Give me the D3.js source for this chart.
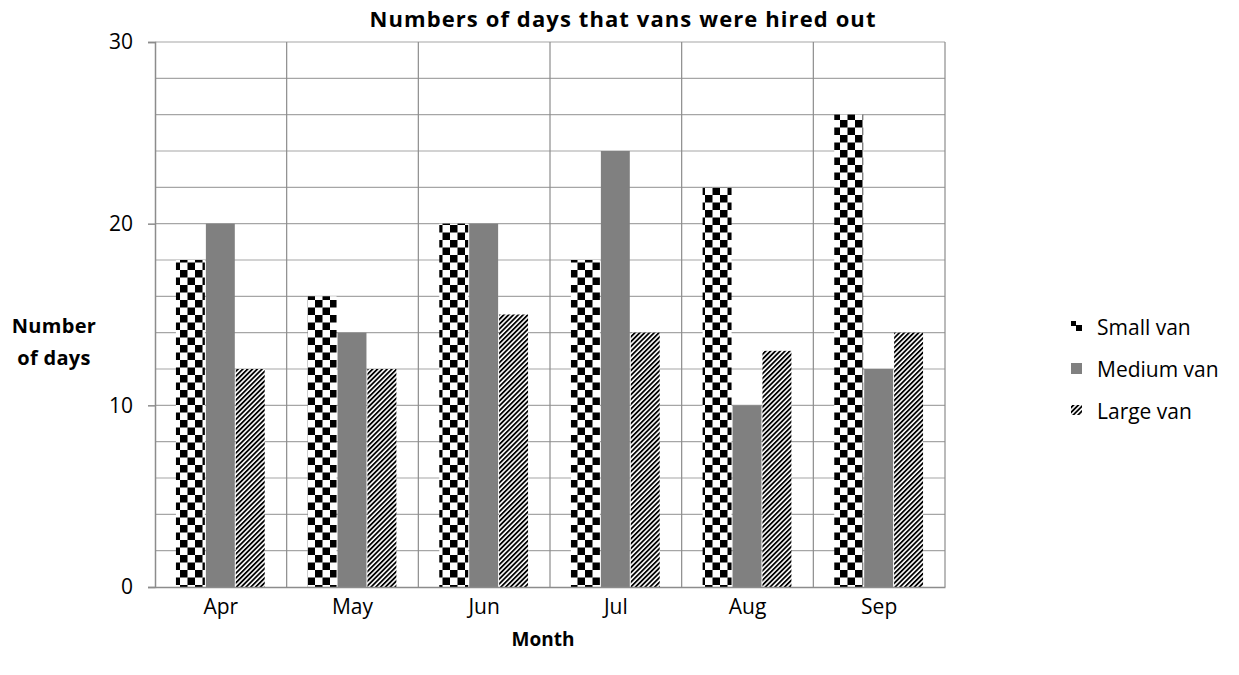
<!DOCTYPE html>
<html>
<head>
<meta charset="utf-8">
<script src="https://cdn.jsdelivr.net/npm/d3@7"></script>
<style>
  body { margin: 0; background: #fff; }
  text { font-family: "Open Sans", "Liberation Sans", sans-serif; }
</style>
</head>
<body>
<svg id="chart" width="1239" height="675"></svg>
<script>
// data
const months = ["Apr", "May", "Jun", "Jul", "Aug", "Sep"]
const seriesNames = ["Small van", "Medium van", "Large van"]
const smallVan = [18, 16, 20, 18, 22, 26]
const mediumVan = [20, 14, 20, 24, 10, 12]
const largeVan = [12, 12, 15, 14, 13, 14]
const yTicks = [0, 10, 20, 30]

const series = [smallVan, mediumVan, largeVan]
let svg = d3.select("#chart")
let width = 1239, height = 675
let margin = { left: 155, right: 294, top: 42, bottom: 88 }

// patterns
let defs = svg.append("defs")
let checker = defs.append("pattern").attr("id", "checker")
    .attr("patternUnits", "userSpaceOnUse").attr("width", 15).attr("height", 15)
checker.append("rect").attr("width", 15).attr("height", 15).attr("fill", "#fff")
checker.append("rect").attr("width", 7.5).attr("height", 7.5).attr("fill", "#000")
checker.append("rect").attr("x", 7.5).attr("y", 7.5).attr("width", 7.5).attr("height", 7.5).attr("fill", "#000")

let hatch = defs.append("pattern").attr("id", "hatch")
    .attr("patternUnits", "userSpaceOnUse").attr("width", 3.4).attr("height", 10)
    .attr("patternTransform", "rotate(45)")
hatch.append("rect").attr("width", 3.4).attr("height", 10).attr("fill", "#fff")
hatch.append("rect").attr("width", 1.8).attr("height", 10).attr("fill", "#000")

let fills = ["url(#checker)", "#808080", "url(#hatch)"]

// scales
let x = d3.scaleBand().domain(months).range([margin.left, width - margin.right])
let xi = d3.scaleBand().domain(d3.range(3)).range([0, x.bandwidth()]).paddingOuter(0.7)
let y = d3.scaleLinear().domain([0, 30]).range([height - margin.bottom, margin.top])

// gridlines
let grid = svg.append("g")
grid.selectAll("line.h").data(d3.range(2, 31, 2)).enter().append("line")
    .attr("x1", margin.left).attr("x2", width - margin.right)
    .attr("y1", d => y(d)).attr("y2", d => y(d))
    .attr("stroke", "#a6a6a6").attr("stroke-width", 1.2)
grid.selectAll("line.v").data(months.slice(1).map(m => x(m)).concat([width - margin.right])).enter().append("line")
    .attr("x1", d => d).attr("x2", d => d)
    .attr("y1", y(30)).attr("y2", y(0))
    .attr("stroke", "#8c8c8c").attr("stroke-width", 1.2)

// bars
series.forEach((vals, si) => {
    svg.append("g").selectAll("rect").data(vals).enter().append("rect")
        .attr("x", (d, i) => x(months[i]) + xi(si))
        .attr("width", xi.bandwidth() - 1)
        .attr("y", d => y(d))
        .attr("height", d => y(0) - y(d))
        .attr("fill", fills[si])
})

// axes
let yAxis = svg.append("g").attr("transform", `translate(${margin.left},0)`)
    .call(d3.axisLeft(y).tickValues(yTicks).tickSize(7).tickPadding(15).tickFormat(d3.format("d")))
yAxis.select(".domain").attr("stroke", "#8c8c8c").attr("stroke-width", 1.5)
yAxis.selectAll(".tick line").attr("stroke", "#8c8c8c").attr("stroke-width", 1.5)
yAxis.selectAll("text").attr("font-size", 21).attr("fill", "#000")
    .style("font-family", '"Open Sans", sans-serif')

let xAxis = svg.append("g").attr("transform", `translate(0,${y(0)})`)
    .call(d3.axisBottom(x).tickSize(0).tickPadding(12))
xAxis.select(".domain").attr("stroke", "#8c8c8c").attr("stroke-width", 1.5)
xAxis.selectAll("text").attr("font-size", 21).attr("fill", "#000")
    .style("font-family", '"Open Sans", sans-serif')

// titles
svg.append("text").attr("x", 623).attr("y", 27).attr("text-anchor", "middle")
    .attr("font-size", 22).attr("font-weight", "bold").attr("letter-spacing", 1.1)
    .text("Numbers of days that vans were hired out")
svg.append("text").attr("x", 543).attr("y", 646).attr("text-anchor", "middle")
    .attr("font-size", 19).attr("font-weight", "bold").text("Month")
let yl = svg.append("text").attr("text-anchor", "middle").attr("font-size", 20)
    .attr("font-weight", "bold").attr("letter-spacing", 0.3)
yl.append("tspan").attr("x", 54).attr("y", 333).text("Number")
yl.append("tspan").attr("x", 54).attr("y", 365).text("of days")

// legend
let legend = svg.append("g")
seriesNames.forEach((name, i) => {
    let ly = 327 + i * 42
    let g = legend.append("g").attr("transform", `translate(1076,${ly})`)
    if (i === 0) {
        g.append("rect").attr("x", -5).attr("y", -6).attr("width", 5).attr("height", 5).attr("fill", "#000")
        g.append("rect").attr("x", 0).attr("y", -2).attr("width", 6).attr("height", 6).attr("fill", "#000")
    } else if (i === 1) {
        g.append("rect").attr("x", -5).attr("y", -6).attr("width", 11).attr("height", 11).attr("fill", "#808080")
    } else {
        g.append("rect").attr("x", -5).attr("y", -6).attr("width", 11).attr("height", 10).attr("fill", "url(#hatch)")
    }
    g.append("text").attr("x", 21).attr("y", 8).attr("font-size", 21).text(name)
})
</script>
</body>
</html>
